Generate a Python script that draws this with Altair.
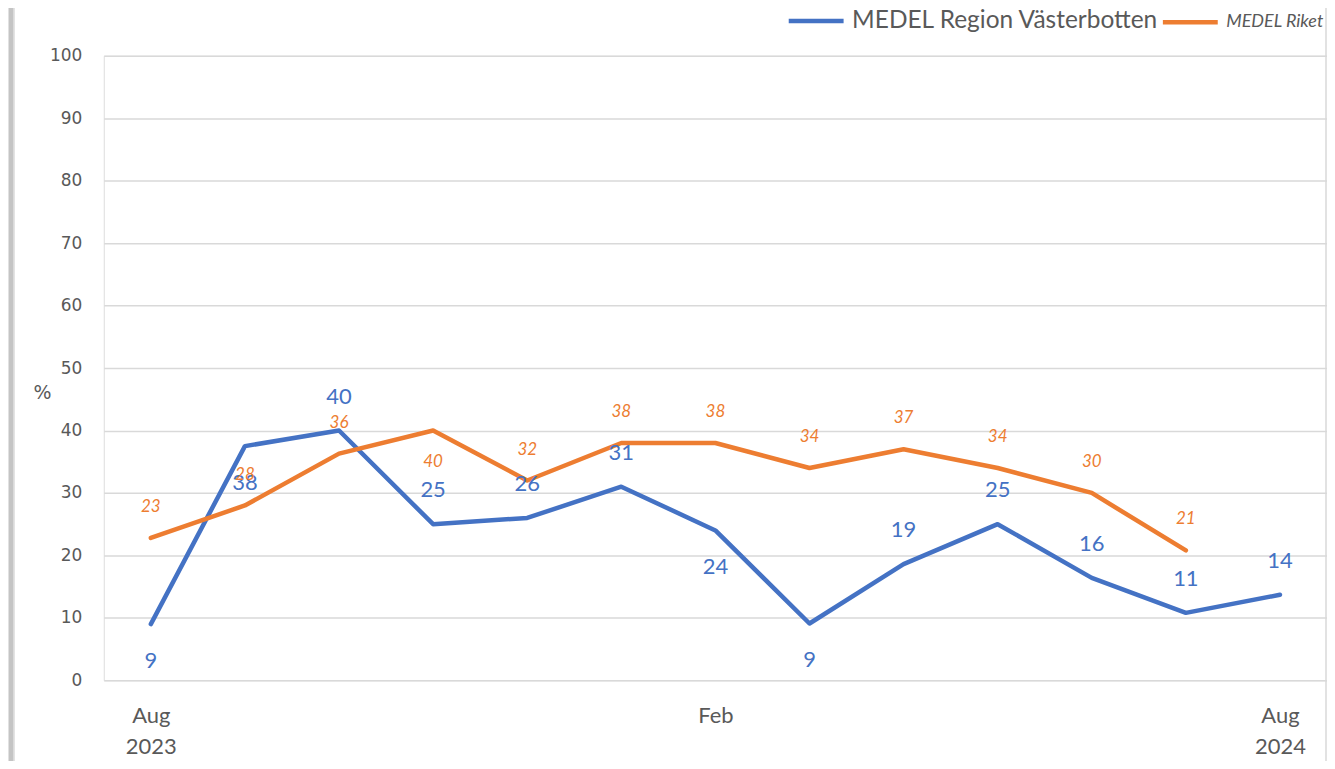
import altair as alt
import pandas as pd

months = ["2023-08", "2023-09", "2023-10", "2023-11", "2023-12", "2024-01",
          "2024-02", "2024-03", "2024-04", "2024-05", "2024-06", "2024-07", "2024-08"]
tick_text = ["Aug\n2023", "", "", "", "", "", "Feb", "", "", "", "", "", "Aug\n2024"]

series_names = ["MEDEL Region Västerbotten", "MEDEL Riket"]
series_colors = ["#4472C4", "#ED7D31"]

vasterbotten = [9, 37.5, 40, 25, 26, 31, 24, 9.1, 18.6, 25, 16.4, 10.8, 13.7]
riket = [22.8, 28, 36.3, 40, 32, 38, 38, 34, 37, 34, 30, 20.8, None]

vasterbotten_label_side = ["below", "below", "above", "above", "above", "above", "below",
                           "below", "above", "above", "above", "above", "above"]
riket_label_side = ["above", "above", "above", "below", "above", "above", "above",
                    "above", "above", "above", "above", "above", "above"]

y_ticks = [0, 10, 20, 30, 40, 50, 60, 70, 80, 90, 100]

rows = []
for name, vals, sides in [(series_names[0], vasterbotten, vasterbotten_label_side),
                          (series_names[1], riket, riket_label_side)]:
    for m, v, s in zip(months, vals, sides):
        rows.append({"month": m, "series": name, "value": v, "side": s})
df = pd.DataFrame(rows)

GRAY = "#595959"

months_js = "[" + ",".join("'%s'" % m for m in months) + "]"
ticks_js = "[" + ",".join("'%s'" % t.replace("\n", "|") for t in tick_text) + "]"
label_expr = "split(%s[indexof(%s, datum.value)], '|')" % (ticks_js, months_js)

x_enc = alt.X("month:O", sort=months,
              scale=alt.Scale(type="point", padding=0.5),
              axis=alt.Axis(title=None, labelExpr=label_expr, labelAngle=0,
                            labelFont="Lato", labelFontSize=22, labelColor=GRAY,
                            labelLineHeight=31, labelPadding=25, ticks=False,
                            domain=False, grid=False, labelOverlap=False,
                            labelBound=False, labelFlush=False))
y_enc = alt.Y("value:Q", scale=alt.Scale(domain=[0, 100], nice=False),
              axis=alt.Axis(values=y_ticks, title="%", titleAngle=0, titleX=-62,
                            titleY=338, titleAlign="center", titleBaseline="middle",
                            titleFont="DejaVu Sans", titleFontSize=19,
                            titleFontWeight="normal", titleColor=GRAY,
                            labelFont="DejaVu Sans", labelFontSize=17,
                            labelColor=GRAY, labelPadding=22, ticks=False,
                            domain=False, gridColor="#D9D9D9", gridWidth=1.5))

color_enc = alt.Color("series:N", sort=series_names,
                      scale=alt.Scale(domain=series_names, range=series_colors),
                      legend=alt.Legend(orient="none", legendX=684, legendY=-65,
                                        direction="horizontal", title=None,
                                        symbolType="stroke", symbolSize=3025,
                                        symbolStrokeWidth=4.5, labelFont="Lato",
                                        labelFontSize={"expr": "datum.value == 'MEDEL Riket' ? 18 : 24.5"},
                                        labelFontStyle={"expr": "datum.value == 'MEDEL Riket' ? 'italic' : 'normal'"},
                                        labelColor=GRAY, labelOffset=6, labelLimit=500,
                                        columnPadding=-6, padding=0))

base = alt.Chart(df)

lines = base.mark_line(strokeWidth=4.5, strokeJoin="round", strokeCap="round").encode(
    x=x_enc, y=y_enc, color=color_enc)


def labels(series, side, dy, size, style, color):
    return base.transform_filter(
        (alt.datum.series == series) & (alt.datum.side == side)
    ).mark_text(dy=dy, fontSize=size, font="Lato", fontStyle=style, color=color,
                baseline="middle", align="center").encode(
        x=alt.X("month:O", sort=months), y=alt.Y("value:Q"),
        text=alt.Text("value:Q", format=".0f"))


text_layers = [
    labels(series_names[0], "above", -34, 22, "normal", series_colors[0]),
    labels(series_names[0], "below", 37, 22, "normal", series_colors[0]),
    labels(series_names[1], "above", -31, 17, "italic", series_colors[1]),
    labels(series_names[1], "below", 32, 17, "italic", series_colors[1]),
]

frame_df = pd.DataFrame({"k": [0]})
frame = alt.Chart(frame_df).mark_rect(fill=None, stroke="#D9D9D9", strokeWidth=1.5, clip=False).encode(
    x=alt.value(-90), x2=alt.value(1225), y=alt.value(-52), y2=alt.value(730))
shadow = alt.Chart(frame_df).mark_rule(stroke="#C4C4C4", strokeWidth=5, clip=False).encode(
    x=alt.value(-93), y=alt.value(-50), y2=alt.value(730))

chart = alt.layer(shadow, frame, lines, *text_layers).properties(
    width=1226, height=626,
    autosize=alt.AutoSizeParams(type="none"),
    padding={"left": 96, "top": 47, "right": 0, "bottom": 80},
).configure_view(stroke=None).configure(background="white")

chart.save("out.html", embed_options={"renderer": "svg", "actions": False})
